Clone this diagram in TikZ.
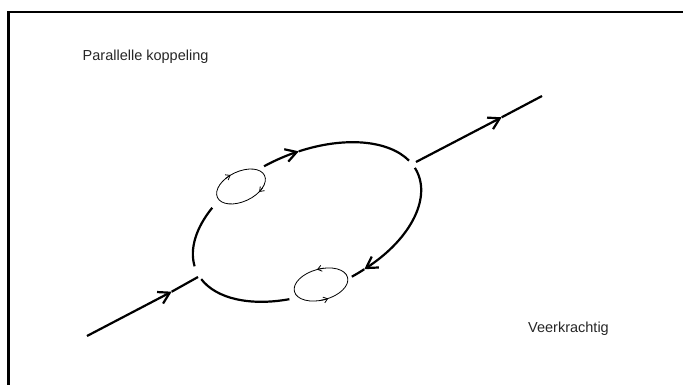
\documentclass[tikz,border=0pt]{standalone}
\usepackage{fontspec}
\setmainfont{Liberation Sans}
\usetikzlibrary{arrows.meta}
\begin{document}
\begin{tikzpicture}[x=1pt,y=1pt,
  heavy/.style={line width=2.2pt, line cap=butt},
  thinline/.style={line width=0.8pt},
  bigtip/.style={-{Straight Barb[length=11pt,width=13pt]}},
  smalltip/.style={-{Straight Barb[length=4pt,width=6pt]}},
  lbl/.style={font=\fontsize{14.5}{17}\selectfont, inner sep=0pt, anchor=base west, text=black!85}]
\useasboundingbox (0,0) rectangle (683,385);
% frame
\draw[line width=2.3pt] (8.5,-2) -- (8.5,373.2) -- (686,373.2);
% labels
\node[lbl] (title) at (82.5,324.3) {Parallelle koppeling};
\node[lbl] (sub) at (528,52.7) {Veerkrachtig};
% incoming line
\coordinate (inA) at (87,49);
\coordinate (inT) at (171.7,93.3);
\coordinate (inB) at (198,108);
\draw[heavy,bigtip] (inA) -- (inT);
\draw[heavy] (inT) -- (inB);
% outgoing line
\coordinate (outA) at (416,223);
\coordinate (outT) at (501.7,267.7);
\coordinate (outB) at (542,289);
\draw[heavy,bigtip] (outA) -- (outT);
\draw[heavy] (outT) -- (outB);
% big ellipse
\begin{scope}[shift={(307,163)}, rotate=23.8]
  \draw[heavy,bigtip] (98:121pt and 69pt) arc[start angle=98, end angle=80, x radius=121pt, y radius=69pt];
  \draw[heavy] (80:121pt and 69pt) arc[start angle=80, end angle=12.5, x radius=121pt, y radius=69pt];
  \draw[heavy] (132:121pt and 69pt) arc[start angle=132, end angle=176, x radius=121pt, y radius=69pt];
  \draw[heavy] (188:121pt and 69pt) arc[start angle=188, end angle=247, x radius=121pt, y radius=69pt];
  \draw[heavy,bigtip] (365:121pt and 69pt) arc[start angle=365, end angle=286, x radius=121pt, y radius=69pt];
  \draw[heavy] (286:121pt and 69pt) arc[start angle=286, end angle=279, x radius=121pt, y radius=69pt];
\end{scope}
% small ellipse upper left
\begin{scope}[shift={(241,198.5)}, rotate=25]
  \draw[thinline] (0,0) ellipse[x radius=26pt, y radius=15pt];
  \draw[thinline,smalltip] (115:26pt and 15pt) arc[start angle=115, end angle=100, x radius=26pt, y radius=15pt];
  \draw[thinline,smalltip] (318:26pt and 15pt) arc[start angle=318, end angle=303, x radius=26pt, y radius=15pt];
\end{scope}
% small ellipse lower
\begin{scope}[shift={(321,100.5)}, rotate=15]
  \draw[thinline] (0,0) ellipse[x radius=27.5pt, y radius=15.5pt];
  \draw[thinline,smalltip] (75:27.5pt and 15.5pt) arc[start angle=75, end angle=90, x radius=27.5pt, y radius=15.5pt];
  \draw[thinline,smalltip] (262:27.5pt and 15.5pt) arc[start angle=262, end angle=277, x radius=27.5pt, y radius=15.5pt];
\end{scope}
\end{tikzpicture}
\end{document}
